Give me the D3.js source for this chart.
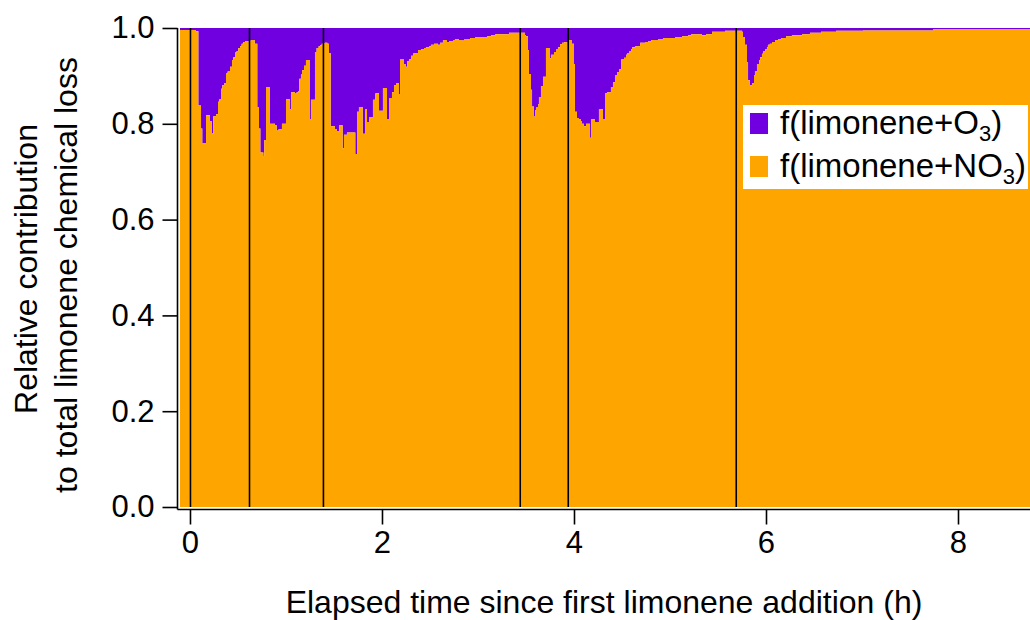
<!DOCTYPE html>
<html>
<head>
<meta charset="utf-8">
<script src="https://cdn.jsdelivr.net/npm/d3@7"></script>
<style>
  body { margin: 0; background: #fff; }
  text { font-family: "Liberation Sans", Arial, sans-serif; fill: #000; }
</style>
</head>
<body>
<div id="chart"></div>
<script>
// elapsed time (h) where each step starts, and fraction of loss due to NO3
var elapsedH = [-0.104, 0.0625, 0.087, 0.115, 0.128, 0.167, 0.208, 0.229, 0.243, 0.271, 0.292, 0.306, 0.323, 0.337, 0.358, 0.375, 0.392, 0.417, 0.438, 0.451, 0.469, 0.486, 0.503, 0.521, 0.538, 0.556, 0.573, 0.632, 0.674, 0.701, 0.719, 0.733, 0.764, 0.774, 0.792, 0.833, 0.885, 0.903, 0.924, 0.958,
  1.0, 1.042, 1.052, 1.094, 1.111, 1.128, 1.139, 1.156, 1.167, 1.188, 1.208, 1.25, 1.26, 1.302, 1.319, 1.34, 1.354, 1.372, 1.403, 1.431, 1.448, 1.465, 1.51, 1.531, 1.552, 1.59, 1.604, 1.635, 1.722, 1.74, 1.76, 1.799, 1.823, 1.844, 1.865, 1.906, 1.931, 1.969,
  2.01, 2.052, 2.073, 2.104, 2.125, 2.146, 2.177, 2.188, 2.229, 2.25, 2.264, 2.281, 2.302, 2.323, 2.375, 2.406, 2.438, 2.458, 2.49, 2.51, 2.542, 2.583, 2.604, 2.635, 2.677, 2.698, 2.74, 2.76, 2.802, 2.833, 2.854, 2.885, 2.917, 2.969,
  3.094, 3.135, 3.177, 3.323, 3.49, 3.5, 3.521, 3.531, 3.552, 3.563, 3.583, 3.594, 3.604, 3.625, 3.635, 3.656, 3.677, 3.708, 3.75, 3.76, 3.792, 3.813, 3.833, 3.854, 3.875, 3.896, 3.944, 3.979,
  4.0, 4.01, 4.031, 4.052, 4.073, 4.083, 4.104, 4.125, 4.167, 4.177, 4.219, 4.26, 4.302, 4.323, 4.344, 4.385, 4.406, 4.427, 4.448, 4.469, 4.49, 4.521, 4.542, 4.552, 4.573, 4.594, 4.604, 4.635, 4.688, 4.74, 4.771, 4.802, 4.875, 4.927,
  5.052, 5.125, 5.188, 5.219, 5.333, 5.375, 5.438, 5.573, 5.75, 5.76, 5.781, 5.802, 5.813, 5.833, 5.854, 5.875, 5.885, 5.906, 5.927, 5.938, 5.958, 5.969, 5.99,
  6.01, 6.02, 6.04, 6.063, 6.094, 6.125, 6.156, 6.208, 6.27, 6.375, 6.458, 6.573, 6.73, 7.01, 7.74, 8.75]

var fNO3 = [0.996, 0.993, 0.838, 0.79, 0.76, 0.818, 0.806, 0.78, 0.816, 0.82, 0.846, 0.852, 0.873, 0.881, 0.885, 0.905, 0.909, 0.919, 0.933, 0.939, 0.949, 0.952, 0.958, 0.962, 0.967, 0.971, 0.973, 0.975, 0.967, 0.834, 0.79, 0.74, 0.733, 0.766, 0.877, 0.80, 0.797, 0.786, 0.789, 0.80,
  0.852, 0.831, 0.866, 0.863, 0.866, 0.868, 0.894, 0.903, 0.912, 0.921, 0.933, 0.81, 0.85, 0.95, 0.958, 0.962, 0.964, 0.967, 0.969, 0.967, 0.948, 0.795, 0.789, 0.785, 0.797, 0.749, 0.777, 0.782, 0.737, 0.825, 0.835, 0.779, 0.831, 0.804, 0.814, 0.85, 0.864, 0.827,
  0.875, 0.81, 0.854, 0.866, 0.881, 0.885, 0.862, 0.934, 0.925, 0.919, 0.931, 0.935, 0.942, 0.948, 0.954, 0.956, 0.958, 0.96, 0.962, 0.965, 0.967, 0.965, 0.969, 0.975, 0.971, 0.973, 0.975, 0.977, 0.975, 0.974, 0.976, 0.977, 0.979, 0.981,
  0.983, 0.985, 0.987, 0.99, 0.985, 0.983, 0.954, 0.904, 0.871, 0.836, 0.815, 0.829, 0.834, 0.841, 0.856, 0.879, 0.898, 0.958, 0.937, 0.944, 0.95, 0.955, 0.96, 0.966, 0.969, 0.97, 0.975, 0.967,
  0.925, 0.825, 0.812, 0.81, 0.806, 0.80, 0.795, 0.80, 0.771, 0.81, 0.804, 0.831, 0.81, 0.864, 0.866, 0.877, 0.887, 0.902, 0.908, 0.914, 0.934, 0.938, 0.944, 0.948, 0.952, 0.956, 0.96, 0.962, 0.969, 0.971, 0.973, 0.975, 0.977, 0.979,
  0.981, 0.983, 0.985, 0.987, 0.985, 0.987, 0.992, 0.994, 0.992, 0.981, 0.965, 0.929, 0.891, 0.881, 0.885, 0.902, 0.91, 0.925, 0.933, 0.939, 0.946, 0.952, 0.956,
  0.96, 0.965, 0.967, 0.971, 0.975, 0.977, 0.979, 0.983, 0.985, 0.987, 0.99, 0.992, 0.994, 0.995, 0.998, 0.998]

// times of limonene additions (vertical lines)
var eventTimes = [0.005, 0.62, 1.39, 3.44, 3.94, 5.69]

var xTicks = [0, 2, 4, 6, 8]
var yTicks = [0, 0.2, 0.4, 0.6, 0.8, 1.0]

var w = 1030
var h = 620

var svg = d3.select('#chart')
  .append('svg')
  .attr('width', w)
  .attr('height', h)

var xScale = d3.scaleLinear()
  .domain([-0.104, 8.75])
  .range([180, 1030])

var yScale = d3.scaleLinear()
  .domain([0, 1])
  .range([507, 28])

var data = elapsedH.map((t, i) => ({ t: t, f: fNO3[i] }))

// O3 fraction sits on top of the NO3 fraction
var areaO3 = d3.area()
  .curve(d3.curveStepAfter)
  .x(d => xScale(d.t))
  .y0(d => yScale(d.f))
  .y1(yScale(1))

var areaNO3 = d3.area()
  .curve(d3.curveStepAfter)
  .x(d => xScale(d.t))
  .y0(yScale(0))
  .y1(d => yScale(d.f))

svg.append('path')
  .datum(data)
  .attr('d', areaO3)
  .attr('fill', '#7000e0')

svg.append('path')
  .datum(data)
  .attr('d', areaNO3)
  .attr('fill', '#ffa500')

svg.selectAll('.event')
  .data(eventTimes)
  .enter()
  .append('line')
  .attr('class', 'event')
  .attr('x1', d => xScale(d))
  .attr('x2', d => xScale(d))
  .attr('y1', yScale(0))
  .attr('y2', yScale(1))
  .attr('stroke', '#000')
  .attr('stroke-width', 1.6)

// axes, drawn slightly offset from the plot area
var xAxis = d3.axisBottom(xScale)
  .tickValues(xTicks)
  .tickSize(15)
  .tickPadding(6)
  .tickFormat(d3.format('d'))

var yAxis = d3.axisLeft(yScale)
  .tickValues(yTicks)
  .tickSize(15)
  .tickPadding(8)
  .tickFormat(d3.format('.1f'))

var gx = svg.append('g')
  .attr('class', 'x-axis')
  .attr('transform', 'translate(0,509.5)')
  .call(xAxis)
gx.select('.domain').attr('d', 'M177.5,0H1030')

var gy = svg.append('g')
  .attr('class', 'y-axis')
  .attr('transform', 'translate(177.5,0)')
  .call(yAxis)
gy.select('.domain').attr('d', 'M0,' + yScale(1) + 'V509.5')

svg.selectAll('.tick line')
  .attr('stroke', '#000')
  .attr('stroke-width', 1.6)
svg.selectAll('.domain')
  .attr('stroke', '#000')
  .attr('stroke-width', 1.6)
svg.selectAll('.tick text')
  .style('font-size', '31px')
  .attr('fill', '#000')

svg.append('text')
  .attr('x', 604)
  .attr('y', 613)
  .attr('text-anchor', 'middle')
  .style('font-size', '32px')
  .text('Elapsed time since first limonene addition (h)')

svg.append('text')
  .attr('transform', 'translate(37,269) rotate(-90)')
  .attr('text-anchor', 'middle')
  .style('font-size', '32px')
  .text('Relative contribution')

svg.append('text')
  .attr('transform', 'translate(77,275) rotate(-90)')
  .attr('text-anchor', 'middle')
  .style('font-size', '32px')
  .text('to total limonene chemical loss')

// legend
var legend = svg.append('g')
  .attr('class', 'legend')

legend.append('rect')
  .attr('x', 743)
  .attr('y', 105)
  .attr('width', 285)
  .attr('height', 84)
  .attr('fill', '#fff')

var legendItems = [
  { label: 'f(limonene+O', color: '#7000e0' },
  { label: 'f(limonene+NO', color: '#ffa500' }
]

legendItems.forEach((d, i) => {
  legend.append('rect')
    .attr('x', 750)
    .attr('y', 113 + i * 43)
    .attr('width', 18)
    .attr('height', 21)
    .attr('fill', d.color)

  var t = legend.append('text')
    .attr('x', 780)
    .attr('y', 134 + i * 43)
    .style('font-size', '33px')
  t.append('tspan').text(d.label)
  t.append('tspan').attr('dy', 7).style('font-size', '22px').text('3')
  t.append('tspan').attr('dy', -7).text(')')
})
</script>
</body>
</html>
